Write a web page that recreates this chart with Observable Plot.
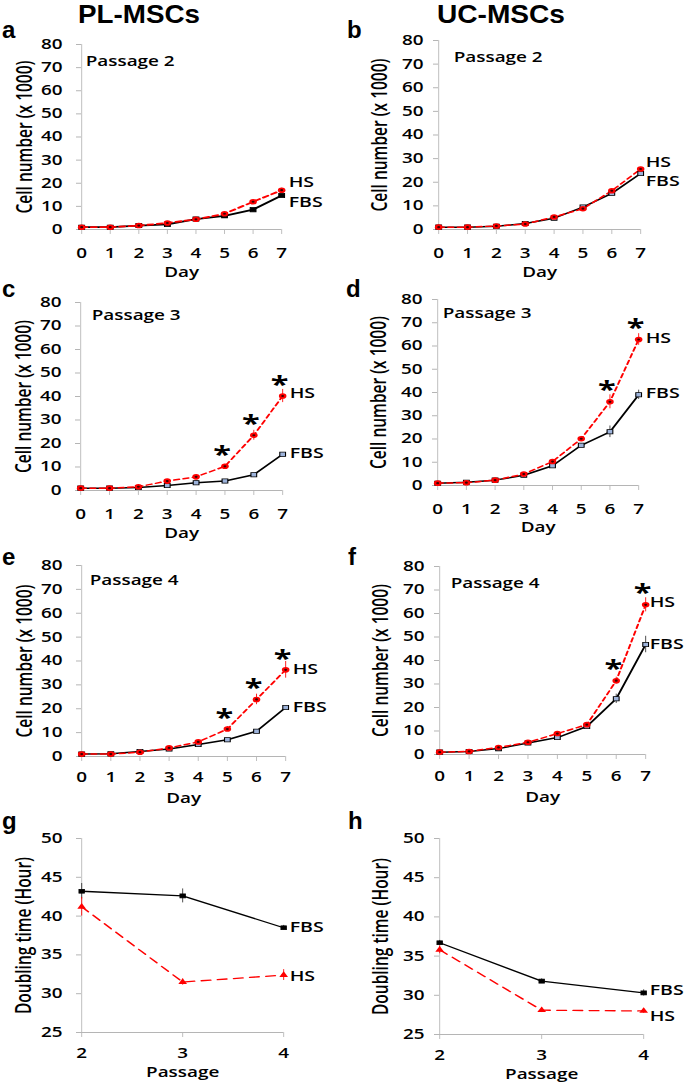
<!DOCTYPE html>
<html><head><meta charset="utf-8">
<script src="https://cdn.jsdelivr.net/npm/d3@7"></script>
<script src="https://cdn.jsdelivr.net/npm/@observablehq/plot@0.6"></script>
<style>
html,body{margin:0;padding:0;background:#fff;}
#fig{position:relative;width:685px;height:1084px;overflow:hidden;}
#fig > svg{position:absolute;}
</style></head><body><div id="fig"></div>
<script>
// ---------- DATA ----------
const days = [0, 1, 2, 3, 4, 5, 6, 7];
const passages = [2, 3, 4];
const cellTicks = [0, 10, 20, 30, 40, 50, 60, 70, 80];
const dtTicks = [25, 30, 35, 40, 45, 50];
const seriesNames = ["HS", "FBS"];
const columnTitles = ["PL-MSCs", "UC-MSCs"];
const panelLetters = ["a", "b", "c", "d", "e", "f", "g", "h"];
const passageLabels = ["Passage 2", "Passage 2", "Passage 3", "Passage 3", "Passage 4", "Passage 4"];
const cellLabel = "Cell number (x 1000)";
const dtLabel = "Doubling time (Hour)";

// a: PL-MSCs, passage 2
const plP2FBS = [1.0, 1.0, 1.7, 2.2, 4.5, 5.9, 8.6, 14.7];
const plP2HS  = [1.0, 1.0, 1.7, 2.8, 4.4, 6.8, 12.0, 17.0];
const plP2HSErr = [0, 0, 0, 0, 0, 0.4, 0.6, 0.8];
// b: UC-MSCs, passage 2
const ucP2FBS = [1.0, 1.0, 1.4, 2.5, 4.8, 9.5, 15.3, 23.7];
const ucP2HS  = [1.0, 1.0, 1.5, 2.3, 5.3, 8.8, 16.4, 25.6];
// c: PL-MSCs, passage 3
const plP3FBS = [1.0, 1.0, 1.3, 2.1, 3.3, 4.0, 6.7, 15.4];
const plP3HS  = [1.0, 1.0, 1.6, 4.0, 5.8, 10.3, 23.5, 40.2];
const plP3HSErr = [0, 0, 0, 0.3, 0.4, 0.8, 2.1, 2.8];
const plP3Sig = [5, 6, 7];
// d: UC-MSCs, passage 3
const ucP3FBS = [1.0, 1.4, 2.3, 4.4, 8.5, 17.3, 23.1, 39.0];
const ucP3FBSErr = [0, 0, 0, 0, 0.5, 0.7, 2.5, 2.0];
const ucP3HS  = [1.0, 1.2, 2.3, 4.9, 10.3, 20.1, 36.0, 62.8];
const ucP3HSErr = [0, 0, 0, 0, 0.5, 1.0, 3.0, 2.5];
const ucP3Sig = [6, 7];
// e: PL-MSCs, passage 4
const plP4FBS = [1.0, 1.1, 2.1, 3.1, 5.0, 7.0, 10.6, 20.5];
const plP4HS  = [1.0, 1.0, 1.8, 3.6, 6.1, 11.5, 23.9, 36.3];
const plP4HSErr = [0, 0, 0, 0, 0.5, 1.0, 2.2, 3.5];
const plP4Sig = [5, 6, 7];
// f: UC-MSCs, passage 4
const ucP4FBS = [1.0, 1.3, 2.5, 4.9, 7.2, 11.9, 23.7, 46.8];
const ucP4FBSErr = [0, 0, 0, 0, 0, 0.5, 2.0, 3.5];
const ucP4HS  = [1.0, 1.3, 3.0, 5.2, 8.9, 12.7, 31.4, 63.7];
const ucP4HSErr = [0, 0, 0, 0, 0.4, 0.5, 1.5, 3.0];
const ucP4Sig = [6, 7];
// g: PL-MSCs doubling time
const plDtFBS = [43.2, 42.6, 38.5];
const plDtFBSErr = [1.0, 0.9, 0.3];
const plDtHS  = [41.2, 31.5, 32.4];
const plDtHSErr = [1.2, 0.4, 0.7];
// h: UC-MSCs doubling time
const ucDtFBS = [36.7, 31.8, 30.3];
const ucDtFBSErr = [0.3, 0.3, 0.4];
const ucDtHS  = [35.8, 28.1, 28.0];
const ucDtHSErr = [0.5, 0.3, 0.3];

// ---------- LAYOUT / STYLE ----------
const S = 1.35;              // horizontal stretch of the original figure
const GRAY = "#b5b5b5";
const FONT = "'Open Sans', sans-serif";
const fig = document.getElementById("fig");

function panel(o) {
  const toRows = (ys, es) => o.xs.map((x, i) => ({x, y: ys[i], e: es ? es[i] : 0}));
  const fbs = toRows(o.fbs, o.fbsErr);
  const hs = toRows(o.hs, o.hsErr);
  const lastF = fbs[fbs.length - 1], lastH = hs[hs.length - 1];
  const isDt = o.kind === "dt";
  const marks = [
    Plot.ruleY([o.yDomain[0]], {stroke: GRAY, strokeWidth: 1}),
    Plot.ruleX([o.xDomain[0]], {stroke: GRAY, strokeWidth: 1 / S}),
    Plot.axisX({ticks: o.xs, tickSize: 5, tickPadding: o.xTickPad, stroke: GRAY, strokeWidth: 1 / S, fill: "black", label: null, tickFormat: d => String(d), fontSize: 14}),
    Plot.axisY({ticks: o.yTicks, tickSize: 5 / S, tickPadding: o.yTickPad / S, stroke: GRAY, fill: "black", label: null, tickFormat: d => String(d), fontSize: 14}),
    Plot.ruleX(fbs.filter(d => d.e > 0), {x: "x", y1: d => d.y - d.e, y2: d => d.y + d.e, stroke: "#333", strokeWidth: 1 / S}),
    Plot.ruleX(hs.filter(d => d.e > 0), {x: "x", y1: d => d.y - d.e, y2: d => d.y + d.e, stroke: "red", strokeWidth: 1 / S}),
    Plot.line(fbs, {x: "x", y: "y", stroke: "black", strokeWidth: o.lineW}),
    Plot.line(hs, {x: "x", y: "y", stroke: "red", strokeWidth: o.lineW, strokeDasharray: o.dash}),
    Plot.dot(fbs, {x: "x", y: "y", symbol: "square", r: isDt ? 2.2 : 2.4, fill: o.fbsFill, stroke: "black", strokeWidth: 0.8}),
  ];
  if (isDt) {
    marks.push(Plot.dot(hs, {x: "x", y: "y", symbol: "triangle", r: 2.4, fill: "red"}));
  } else {
    marks.push(Plot.dot(hs, {x: "x", y: "y", r: 2.8, fill: "red"}));
    marks.push(Plot.dot(hs, {x: "x", y: "y", r: 1.1, fill: "#3a0000"}));
  }
  if (o.sig) {
    marks.push(Plot.text(o.sig, {x: d => d, y: d => o.hs[o.xs.indexOf(d)], text: () => "*", dx: -3 / S, dy: -11, fontSize: 24, fontWeight: 700, lineAnchor: "middle"}));
  }
  marks.push(
    Plot.text([lastH], {x: "x", y: "y", text: () => seriesNames[0], dx: o.labDx / S, dy: o.hsDy, textAnchor: "start", lineAnchor: "middle", fontSize: 14.5}),
    Plot.text([lastF], {x: "x", y: "y", text: () => seriesNames[1], dx: o.labDx / S, dy: o.fbsDy, textAnchor: "start", lineAnchor: "middle", fontSize: 14.5}),
    Plot.text([o.ylabel], {frameAnchor: "left", rotate: -90, text: d => d, dx: o.yLabX / S, fontSize: 15.5, textAnchor: "middle", lineAnchor: "middle"}),
    Plot.text([o.xlabel], {frameAnchor: "bottom", text: d => d, dy: o.xLabDy, lineAnchor: "middle", fontSize: 14})
  );
  if (o.passage) {
    marks.push(Plot.text([o.passage], {frameAnchor: "top-left", text: d => d, dx: o.passDx / S, dy: o.passDy, lineAnchor: "middle", textAnchor: "start", fontSize: 14}));
  }
  const svg = Plot.plot({
    width: o.width / S,
    height: o.height,
    marginLeft: (o.x0 - o.left) / S,
    marginRight: (o.left + o.width - o.x1) / S,
    marginTop: o.yT - o.top,
    marginBottom: o.top + o.height - o.yB,
    x: {domain: o.xDomain},
    y: {domain: o.yDomain},
    style: {fontFamily: FONT, fontSize: "14px", fontWeight: 600, color: "black", background: "transparent", overflow: "visible", maxWidth: "none"},
    marks
  });
  svg.style.position = "absolute";
  svg.style.left = o.left + "px";
  svg.style.top = o.top + "px";
  svg.style.transform = `scaleX(${S})`;
  svg.style.transformOrigin = "0 0";
  fig.appendChild(svg);
}

const growth = {kind: "growth", xs: days, xDomain: [0, 7], yDomain: [0, 80], yTicks: cellTicks, ylabel: cellLabel, xlabel: "Day", dash: "4,3", lineW: 1.5, xTickPad: 14, labDx: 7};
const dt = {kind: "dt", xs: passages, xDomain: [2, 4], yDomain: [25, 50], yTicks: dtTicks, ylabel: dtLabel, xlabel: "Passage", dash: "7,5", lineW: 1.3, fbsFill: "black", xTickPad: 11, labDx: 6};
const L = {left: 0, width: 340, yLabX: -56, yTickPad: 14};
const R = {left: 340, width: 345, yLabX: -58, yTickPad: 10};

panel({...growth, ...L, top: 30, height: 260, x0: 81, x1: 281, yT: 44, yB: 229, xLabDy: 43, fbs: plP2FBS, hs: plP2HS, hsErr: plP2HSErr, fbsFill: "black", passage: passageLabels[0], passDx: 4, passDy: 17, hsDy: -8, fbsDy: 7, lineW: 1.8});
panel({...growth, ...R, top: 30, height: 260, x0: 438, x1: 640, yT: 40, yB: 229, xLabDy: 43, fbs: ucP2FBS, hs: ucP2HS, fbsFill: "#9db3db", passage: passageLabels[1], passDx: 15, passDy: 17, hsDy: -7, fbsDy: 8, labDx: 5});
panel({...growth, ...L, top: 290, height: 250, x0: 80, x1: 282, yT: 302, yB: 490, xLabDy: 43, fbs: plP3FBS, hs: plP3HS, hsErr: plP3HSErr, sig: plP3Sig, fbsFill: "#9db3db", passage: passageLabels[2], passDx: 11, passDy: 13, hsDy: -3, fbsDy: -1});
panel({...growth, ...R, top: 290, height: 250, x0: 437, x1: 638, yT: 299, yB: 485, xLabDy: 42, fbs: ucP3FBS, fbsErr: ucP3FBSErr, hs: ucP3HS, hsErr: ucP3HSErr, sig: ucP3Sig, fbsFill: "#9db3db", passage: passageLabels[3], passDx: 5, passDy: 14, hsDy: -1, fbsDy: -1});
panel({...growth, ...L, top: 545, height: 260, x0: 81, x1: 285, yT: 565, yB: 756, xLabDy: 42, xTickPad: 11, fbs: plP4FBS, hs: plP4HS, hsErr: plP4HSErr, sig: plP4Sig, fbsFill: "#9db3db", passage: passageLabels[4], passDx: 8, passDy: 15, hsDy: 0, fbsDy: 0});
panel({...growth, ...R, top: 545, height: 260, x0: 439, x1: 645, yT: 566, yB: 754, xLabDy: 43, xTickPad: 12, fbs: ucP4FBS, fbsErr: ucP4FBSErr, hs: ucP4HS, hsErr: ucP4HSErr, sig: ucP4Sig, fbsFill: "#9db3db", passage: passageLabels[5], passDx: 11, passDy: 17, hsDy: -2, fbsDy: 0, labDx: 4});
panel({...dt, ...L, yLabX: -57, top: 810, height: 274, x0: 81, x1: 283, yT: 838, yB: 1032, xLabDy: 40, fbs: plDtFBS, fbsErr: plDtFBSErr, hs: plDtHS, hsErr: plDtHSErr, hsDy: 1, fbsDy: 0});
panel({...dt, ...R, yLabX: -58, top: 810, height: 274, x0: 439, x1: 643, yT: 838, yB: 1034, xLabDy: 40, fbs: ucDtFBS, fbsErr: ucDtFBSErr, hs: ucDtHS, hsErr: ucDtHSErr, hsDy: 5, fbsDy: -3});

// ---------- headers & panel letters ----------
const ov = d3.select(fig).append("svg")
  .attr("width", 685).attr("height", 1084)
  .style("left", "0px").style("top", "0px").style("pointer-events", "none");
const heads = [{t: columnTitles[0], x: 139, len: 122}, {t: columnTitles[1], x: 501, len: 128}];
ov.selectAll("text.h").data(heads).join("text")
  .attr("x", d => d.x).attr("y", 23)
  .attr("text-anchor", "middle")
  .attr("textLength", d => d.len).attr("lengthAdjust", "spacingAndGlyphs")
  .style("font-family", "'Liberation Sans', Arial, sans-serif").style("font-weight", 700).style("font-size", "25px")
  .text(d => d.t);
const letterPos = [[2, 38], [347, 38], [2, 297], [346, 297], [2, 565], [348, 565], [2, 829], [348, 829]];
ov.selectAll("text.l").data(panelLetters).join("text")
  .attr("x", (d, i) => letterPos[i][0]).attr("y", (d, i) => letterPos[i][1])
  .style("font-family", "'Liberation Sans', Arial, sans-serif").style("font-weight", 700).style("font-size", "24px")
  .text(d => d);
</script></body></html>
